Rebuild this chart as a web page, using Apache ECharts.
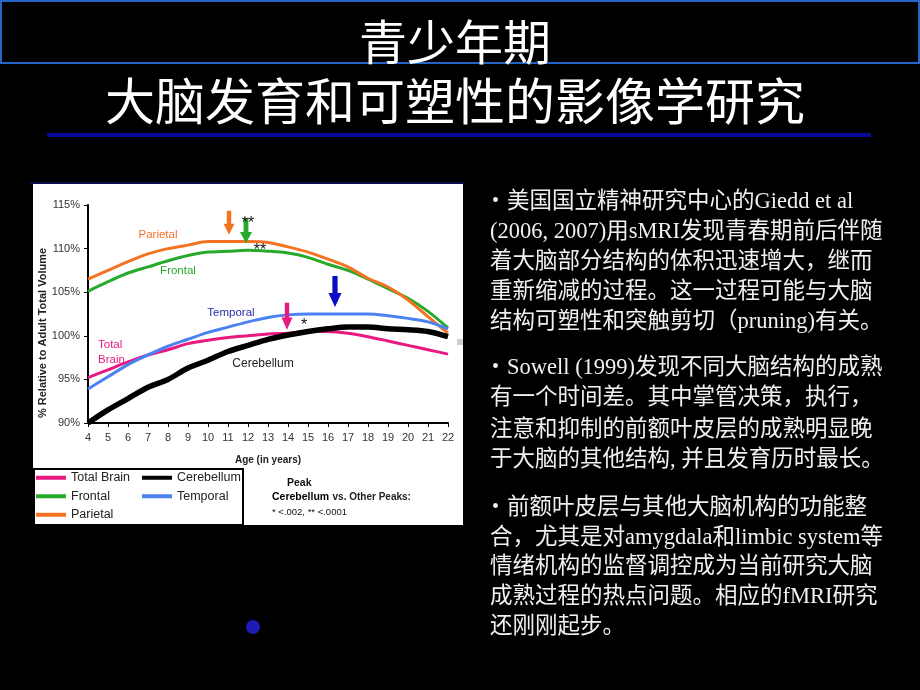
<!DOCTYPE html>
<html>
<head>
<meta charset="utf-8">
<script src="https://cdn.jsdelivr.net/npm/echarts/dist/echarts.min.js"></script>
<style>
html,body{margin:0;padding:0;background:#000;}
#c{width:920px;height:690px;}
</style>
</head>
<body>
<div id="c"></div>
<script>
// ---- data ----
const ages = [4,5,6,7,8,9,10,11,12,13,14,15,16,17,18,19,20,21,22];
const totalBrain = [95.2,96.1,97.0,97.8,98.4,99.1,99.5,99.8,100.0,100.2,100.3,100.5,100.5,100.3,99.9,99.4,98.9,98.4,97.9];
const cerebellum = [90.0,91.5,92.8,94.1,95.0,96.3,97.2,98.2,98.9,99.6,100.1,100.5,100.8,101.0,101.0,100.8,100.7,100.5,99.9];
const frontal = [105.1,106.2,107.2,107.9,108.6,109.2,109.6,109.7,109.8,109.7,109.5,109.0,108.2,107.5,106.5,105.4,104.3,102.8,100.9];
const temporal = [93.9,95.3,96.7,97.8,98.8,99.6,100.4,101.0,101.6,102.1,102.4,102.5,102.5,102.5,102.5,102.3,102.0,101.6,100.8];
const parietal = [106.5,107.5,108.5,109.4,110.0,110.4,110.8,110.8,110.8,110.7,110.2,109.6,108.8,107.9,106.6,105.6,104.1,102.2,100.3];
const yTicks = [90,95,100,105,110,115];
const seriesNames = ['Total Brain','Cerebellum','Frontal','Temporal','Parietal'];
const titleLines = ['青少年期','大脑发育和可塑性的影像学研究'];
const para1 = ['美国国立精神研究中心的Giedd et al','(2006, 2007)用sMRI发现青春期前后伴随','着大脑部分结构的体积迅速增大，继而','重新缩减的过程。这一过程可能与大脑','结构可塑性和突触剪切（pruning)有关。'];
const para2 = ['Sowell (1999)发现不同大脑结构的成熟','有一个时间差。其中掌管决策，执行，','注意和抑制的前额叶皮层的成熟明显晚','于大脑的其他结构, 并且发育历时最长。'];
const para3 = ['前额叶皮层与其他大脑机构的功能整','合，尤其是对amygdala和limbic system等','情绪机构的监督调控成为当前研究大脑','成熟过程的热点问题。相应的fMRI研究','还刚刚起步。'];

const C = {tb:'#e8197f', cb:'#000000', fr:'#27a92b', te:'#4a82f2', pa:'#f47322'};
const SANS = "'Liberation Sans',Arial,sans-serif";
const TXT = "'Liberation Serif','Noto Sans CJK SC',serif";
const ARROW = 'path://M3,0 L7,0 L7,12 L10,12 L5,22 L0,12 L3,12 Z';

function pts(arr){ return ages.map((a,i)=>[a,arr[i]]); }
function lbl(coord, text, color, size, weight, align){
  return {coord, symbol:'circle', symbolSize:0,
    label:{show:true, position:'inside', formatter:text, color, fontSize:size||11,
      fontFamily:SANS, fontWeight:weight||'normal', align:align||'center', lineHeight:15}};
}
function arrow(coord, color, w, h){
  return {coord, symbol:ARROW, symbolSize:[w,h], symbolOffset:[0,'-50%'],
    itemStyle:{color}, label:{show:false}};
}

const graphic = [];
// white chart panel
graphic.push({type:'rect', z:-10, shape:{x:33,y:184,width:430,height:341}, style:{fill:'#ffffff'}});
graphic.push({type:'line', z:-9, shape:{x1:30,y1:183,x2:464,y2:183}, style:{stroke:'#15156a',lineWidth:1.5}});
graphic.push({type:'rect', z:-9, shape:{x:457,y:339,width:6,height:6}, style:{fill:'#cfcfcf'}});
// legend box
graphic.push({type:'rect', z:-8, shape:{x:34,y:469,width:209,height:56}, style:{fill:'#ffffff',stroke:'#000',lineWidth:2}});
// title box
graphic.push({type:'rect', shape:{x:1,y:1,width:918,height:62}, style:{fill:'none',stroke:'#2563c4',lineWidth:2}});
graphic.push({type:'text', style:{text:titleLines[0], x:455, y:42, align:'center', verticalAlign:'middle',
  fill:'#ffffff', font:"48px 'Noto Sans CJK SC'", textShadowColor:'#7a7a7a', textShadowOffsetX:2, textShadowOffsetY:2}});
graphic.push({type:'text', style:{text:titleLines[1], x:455, y:101, align:'center', verticalAlign:'middle',
  fill:'#ffffff', font:"50px 'Noto Sans CJK SC'", textShadowColor:'#7a7a7a', textShadowOffsetX:2, textShadowOffsetY:2}});
graphic.push({type:'rect', shape:{x:47,y:133,width:824,height:4}, style:{fill:'#0a0a96'}});
// right text
function addPara(lines, y0){
  lines.forEach((t,i)=>{
    const y = y0[i];
    if(i===0){
      graphic.push({type:'text', style:{text:'•', x:492, y, verticalAlign:'middle', fill:'#f0f0f0', font:"20px "+TXT}});
    }
    graphic.push({type:'text', style:{text:t, x:i===0?507:490, y, verticalAlign:'middle', fill:'#f0f0f0', font:"22.5px "+TXT}});
  });
}
addPara(para1,[202,232,262,292,322]);
addPara(para2,[368,398,430,460]);
addPara(para3,[508,538,567,597,627]);
// blue dot
graphic.push({type:'circle', shape:{cx:253,cy:627,r:7}, style:{fill:'#1c1cb4'}});
// y axis name
graphic.push({type:'text', x:43, y:333, rotation:Math.PI/2, style:{text:'% Relative to Adult Total Volume', x:0, y:0,
  align:'center', verticalAlign:'middle', fill:'#222', font:"bold 11px "+SANS}});
// peak note
graphic.push({type:'text', style:{text:'Peak', x:287, y:483, verticalAlign:'middle', fill:'#111', font:"bold 10.5px "+SANS}});
graphic.push({type:'text', style:{text:'{b|Cerebellum} {m|vs. Other Peaks:}', x:272, y:497, verticalAlign:'middle',
  rich:{b:{fontFamily:SANS,fontSize:10.5,fontWeight:'bold',fill:'#000'}, m:{fontFamily:SANS,fontSize:10,fontWeight:'bold',fill:'#222'}}}});
graphic.push({type:'text', style:{text:'* <.002, ** <.0001', x:272, y:512, verticalAlign:'middle', fill:'#111', font:"9.5px "+SANS}});

const legendBase = {orient:'vertical', top:469, padding:0, itemWidth:30, itemHeight:4, itemGap:1, icon:'rect',
  textStyle:{fontFamily:SANS, fontSize:12.5, color:'#222', lineHeight:17.5}, selectedMode:false};

const option = {
  backgroundColor:'#000',
  animation:false,
  graphic,
  legend:[
    Object.assign({}, legendBase, {left:36, data:['Total Brain','Frontal','Parietal']}),
    Object.assign({}, legendBase, {left:142, data:['Cerebellum','Temporal']})
  ],
  grid:{left:88, right:472, top:205, bottom:267, containLabel:false},
  xAxis:{type:'value', min:4, max:22, interval:1,
    name:'Age (in years)', nameLocation:'middle', nameGap:32,
    nameTextStyle:{fontFamily:SANS, fontSize:10, fontWeight:'bold', color:'#222'},
    axisLine:{lineStyle:{color:'#000', width:2}}, axisTick:{show:true, length:4, lineStyle:{color:'#000'}},
    axisLabel:{fontFamily:SANS, fontSize:11, color:'#333', margin:9}, splitLine:{show:false}},
  yAxis:{type:'value', min:yTicks[0], max:yTicks[yTicks.length-1], interval:5,
    axisLine:{show:true, lineStyle:{color:'#000', width:2}}, axisTick:{show:true, length:4, lineStyle:{color:'#000'}},
    axisLabel:{fontFamily:SANS, fontSize:11, color:'#333', margin:8, formatter:'{value}%'}, splitLine:{show:false}},
  series:[
    {name:'Frontal', type:'line', data:pts(frontal), smooth:0.3, symbol:'none', color:C.fr, lineStyle:{width:3, color:C.fr},
      markPoint:{data:[lbl([8.5,107.4],'Frontal',C.fr,11.5), arrow([11.9,110.6],C.fr,12,25)]}},
    {name:'Parietal', type:'line', data:pts(parietal), smooth:0.3, symbol:'none', color:C.pa, lineStyle:{width:3, color:C.pa},
      markPoint:{data:[lbl([7.5,111.6],'Parietal',C.pa,11.5), arrow([11.05,111.6],C.pa,11,24)]}},
    {name:'Total Brain', type:'line', data:pts(totalBrain), smooth:0.3, symbol:'none', color:C.tb, lineStyle:{width:3, color:C.tb},
      markPoint:{data:[lbl([4.5,98.1],'Total\nBrain',C.tb,11.5,'normal','left'), arrow([13.95,100.7],C.tb,11,27)]}},
    {name:'Temporal', type:'line', data:pts(temporal), smooth:0.3, symbol:'none', color:C.te, lineStyle:{width:3, color:C.te},
      markPoint:{data:[lbl([11.15,102.6],'Temporal','#2b2ba8',11.5), arrow([16.35,103.3],'#0b0bc6',13,31)]}},
    {name:'Cerebellum', type:'line', data:pts(cerebellum), smooth:0.3, symbol:'none', color:C.cb, lineStyle:{width:5.5, color:C.cb},
      markPoint:{data:[lbl([12.75,96.8],'Cerebellum','#222',12), lbl([12.0,112.9],'**','#111',16), lbl([12.6,109.8],'**','#111',16), lbl([14.8,101.2],'*','#111',16)]}}
  ]
};
const chart = echarts.init(document.getElementById('c'), null, {renderer:'canvas'});
chart.setOption(option);
</script>
</body>
</html>
